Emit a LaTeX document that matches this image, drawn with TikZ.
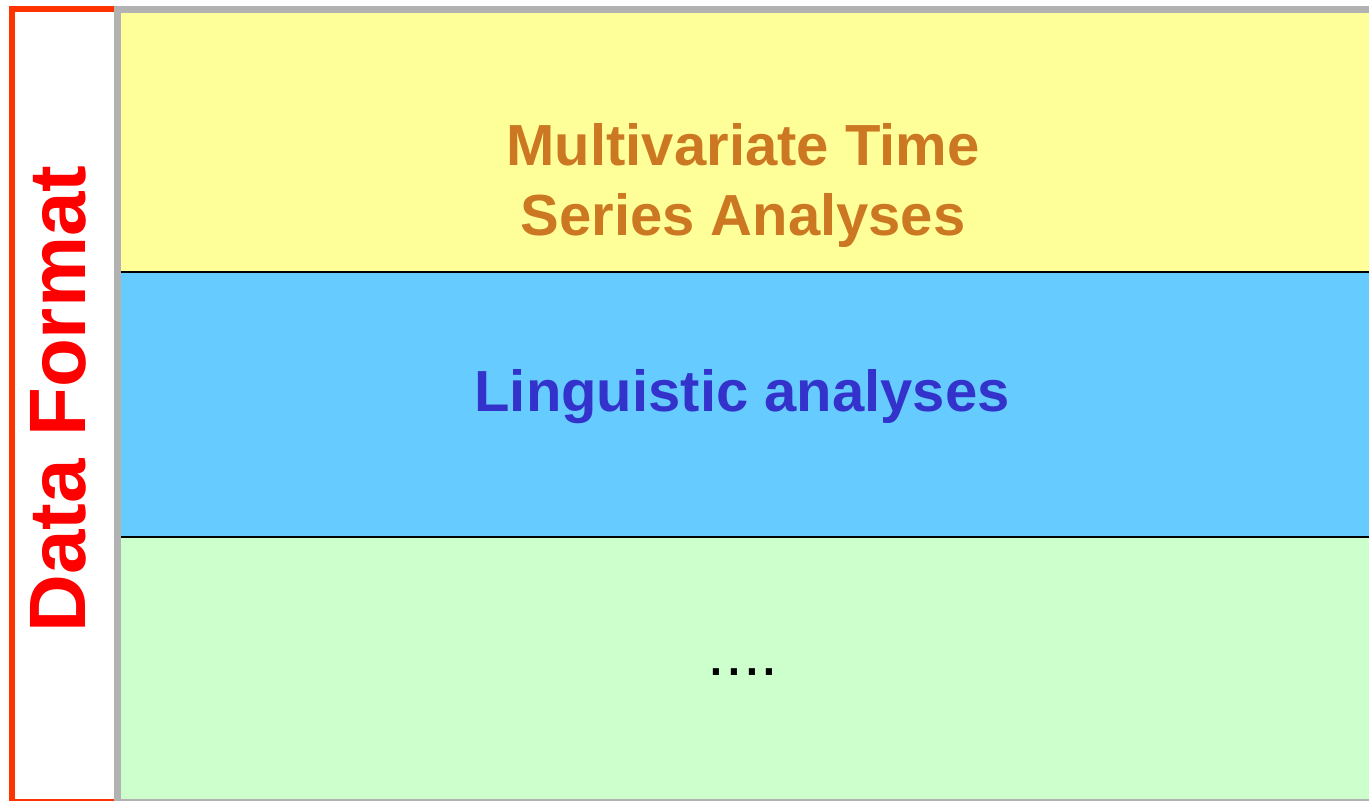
\documentclass[tikz,border=0pt]{standalone}
\usepackage{fontspec}
\setmainfont{Liberation Sans}
\usepackage{tikz}
\usetikzlibrary{positioning}
\definecolor{cyel}{HTML}{FFFF99}
\definecolor{cblue}{HTML}{66CCFF}
\definecolor{cgreen}{HTML}{CCFFCC}
\definecolor{cframe}{HTML}{B2B2B2}
\definecolor{cred}{HTML}{FF3300}
\definecolor{ctxtred}{HTML}{FF0000}
\definecolor{corange}{HTML}{CC7722}
\definecolor{cviolet}{HTML}{3333CC}
\tikzset{
  band/.style={draw=none},
  sep/.style={draw=black, line width=0.9pt},
  frame/.style={line width=3.5pt},
  title/.style={font=\fontsize{29}{35}\selectfont\bfseries, align=center, inner sep=0pt},
  side/.style={font=\fontsize{40}{40}\selectfont\bfseries, text=ctxtred, inner sep=0pt, rotate=90},
}
\begin{document}
\begin{tikzpicture}[x=0.5pt,y=-0.5pt]
\useasboundingbox (0,0) rectangle (1369,800);
% bands
\fill[band, cyel] (117,9) rectangle (1376,272);
\fill[band, cblue] (117,272) rectangle (1376,537);
\fill[band, cgreen] (117,537) rectangle (1376,803);
\draw[sep] (117,272) -- (1376,272);
\draw[sep] (117,537) -- (1376,537);
% frames
\draw[frame, line width=3pt, draw=cred, fill=white] (12,9) rectangle (117,802);
\draw[frame, draw=cframe] (117.5,9) rectangle (1376,802);
% texts
\node[title, text=corange, anchor=base] (mts) at (743,235) {Multivariate Time\\Series Analyses};
\node[title, text=cviolet, anchor=base] (ling) at (742,411) {Linguistic analyses};
\node[font=\fontsize{32}{32}\selectfont, anchor=base, inner sep=0pt] (more) at (743,675) {....};
\node[side, anchor=base] (fmt) at (85,399) {Data Format};
\end{tikzpicture}
\end{document}
